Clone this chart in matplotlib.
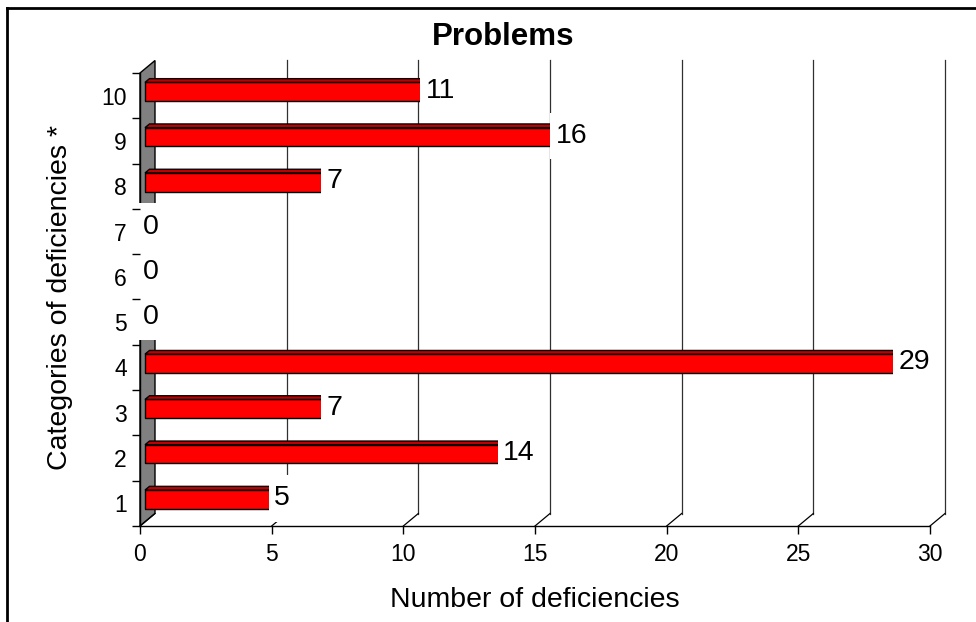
import matplotlib
matplotlib.use("Agg")
import matplotlib.pyplot as plt
from matplotlib.patches import Polygon
from matplotlib.path import Path
from matplotlib.transforms import ScaledTranslation
from matplotlib.lines import Line2D

plt.rcParams['font.family'] = ['Liberation Sans', 'DejaVu Sans']

categories = ['1', '2', '3', '4', '5', '6', '7', '8', '9', '10']
values = [5, 14, 7, 29, 0, 0, 0, 7, 16, 11]
xticks = [0, 5, 10, 15, 20, 25, 30]
title = 'Problems'
xlabel = 'Number of deficiencies'
ylabel = 'Categories of deficiencies *'

W, H, DPI = 976, 622, 100
fig = plt.figure(figsize=(W / DPI, H / DPI), dpi=DPI)

# front plane in pixels
L, R, T, B = 140, 930, 73, 526
ax = fig.add_axes([L / W, (H - B) / H, (R - L) / W, (B - T) / H])
ax.set_xlim(0, 30)
ax.set_ylim(0.5, 10.5)
ax.patch.set_alpha(0)
for s in ['top', 'right']:
    ax.spines[s].set_visible(False)
for s in ['left', 'bottom']:
    ax.spines[s].set_linewidth(1.0)

ppx = (R - L) / 30.0
ppy = (B - T) / 10.0

# depth of the 3D box (pixels)
wdx, wdy = 15 / ppx, 12.5 / ppy
ypos = list(range(1, len(categories) + 1))

# wall
wall = Polygon([(0, 0.5), (0, 10.5), (wdx, 10.5 + wdy), (wdx, 0.5 + wdy)],
               closed=True, facecolor='#808080', edgecolor='black', lw=1.0,
               zorder=1, clip_on=False)
ax.add_patch(wall)

# back gridlines and floor diagonals
for t in xticks:
    if t > 0:
        ax.add_line(Line2D([t + wdx, t + wdx], [0.5 + wdy, 10.5 + wdy],
                           color='#303030', lw=0.9, zorder=1, clip_on=False))
    ax.add_line(Line2D([t, t + wdx], [0.5, 0.5 + wdy], color='black',
                       lw=0.9, zorder=1, clip_on=False))

# bars (front face shifted into depth)
bar_off = ax.transData + ScaledTranslation(5 / DPI, 4 / DPI, fig.dpi_scale_trans)
bh = 0.41
tdx, tdy = 4.5 / ppx, 3.7 / ppy
for y, v in zip(ypos, values):
    if v <= 0:
        continue
    ax.barh(y, v, height=bh, left=0, color='#FF0000', edgecolor='black',
            lw=1.0, transform=bar_off, zorder=3, clip_on=False)
    top = Polygon([(0, y + bh / 2), (v, y + bh / 2),
                   (v + tdx, y + bh / 2 + tdy), (tdx, y + bh / 2 + tdy)],
                  closed=True, facecolor='#C00000', edgecolor='black', lw=1.0,
                  transform=bar_off, zorder=3, clip_on=False)
    ax.add_patch(top)
    side = Polygon([(v, y - bh / 2), (v, y + bh / 2),
                    (v + tdx, y + bh / 2 + tdy), (v + tdx, y - bh / 2 + tdy)],
                   closed=True, facecolor='#A00000', edgecolor='black', lw=1.0,
                   transform=bar_off, zorder=3, clip_on=False)
    ax.add_patch(side)


def label_box(x0, y0, width, height, mutation_size):
    px = 0.20 * mutation_size
    py = 0.36 * mutation_size
    xa, xb = x0 - px, x0 + width + px
    ya, yb = y0 - py, y0 + height + py
    return Path([(xa, ya), (xb, ya), (xb, yb), (xa, yb), (xa, ya)], closed=True)


# data labels with white boxes
lab_off = ax.transData + ScaledTranslation(10.5 / DPI, 5 / DPI, fig.dpi_scale_trans)
for y, v in zip(ypos, values):
    ax.text(v, y, str(v), transform=lab_off, ha='center', va='center',
            fontsize=20.5, color='black', zorder=5, clip_on=False,
            bbox=dict(boxstyle=label_box, facecolor='white', edgecolor='none'))

# ticks
ax.set_xticks(xticks)
ax.set_xticklabels([str(t) for t in xticks])
ax.tick_params(axis='x', direction='out', length=6, width=1.0, pad=6.5,
               labelsize=16.5)
ax.set_yticks(ypos)
ax.set_yticklabels(categories)
ax.tick_params(axis='y', which='major', length=0, pad=9.5, labelsize=16.5)
ax.set_yticks([i + 0.5 for i in range(0, len(categories) + 1)], minor=True)
ax.tick_params(axis='y', which='minor', direction='out', length=6, width=1.0)
ax.yaxis.set_zorder(6)
ax.xaxis.set_zorder(6)

# texts
fig.text(503 / W, 1 - 37 / H, title, ha='center', va='center',
         fontsize=22.5, fontweight='bold')
fig.text(535 / W, 1 - 600 / H, xlabel, ha='center', va='center', fontsize=20.5)
fig.text(60 / W, 1 - 297 / H, ylabel, ha='center', va='center',
         fontsize=20.5, rotation=90)

# chart border (top and left)
fig.add_artist(Line2D([7 / W, 1.0], [1 - 8 / H, 1 - 8 / H], color='black',
                      lw=2.0, transform=fig.transFigure))
fig.add_artist(Line2D([7 / W, 7 / W], [0, 1 - 8 / H], color='black',
                      lw=2.0, transform=fig.transFigure))

fig.savefig('out.png', dpi=DPI)
